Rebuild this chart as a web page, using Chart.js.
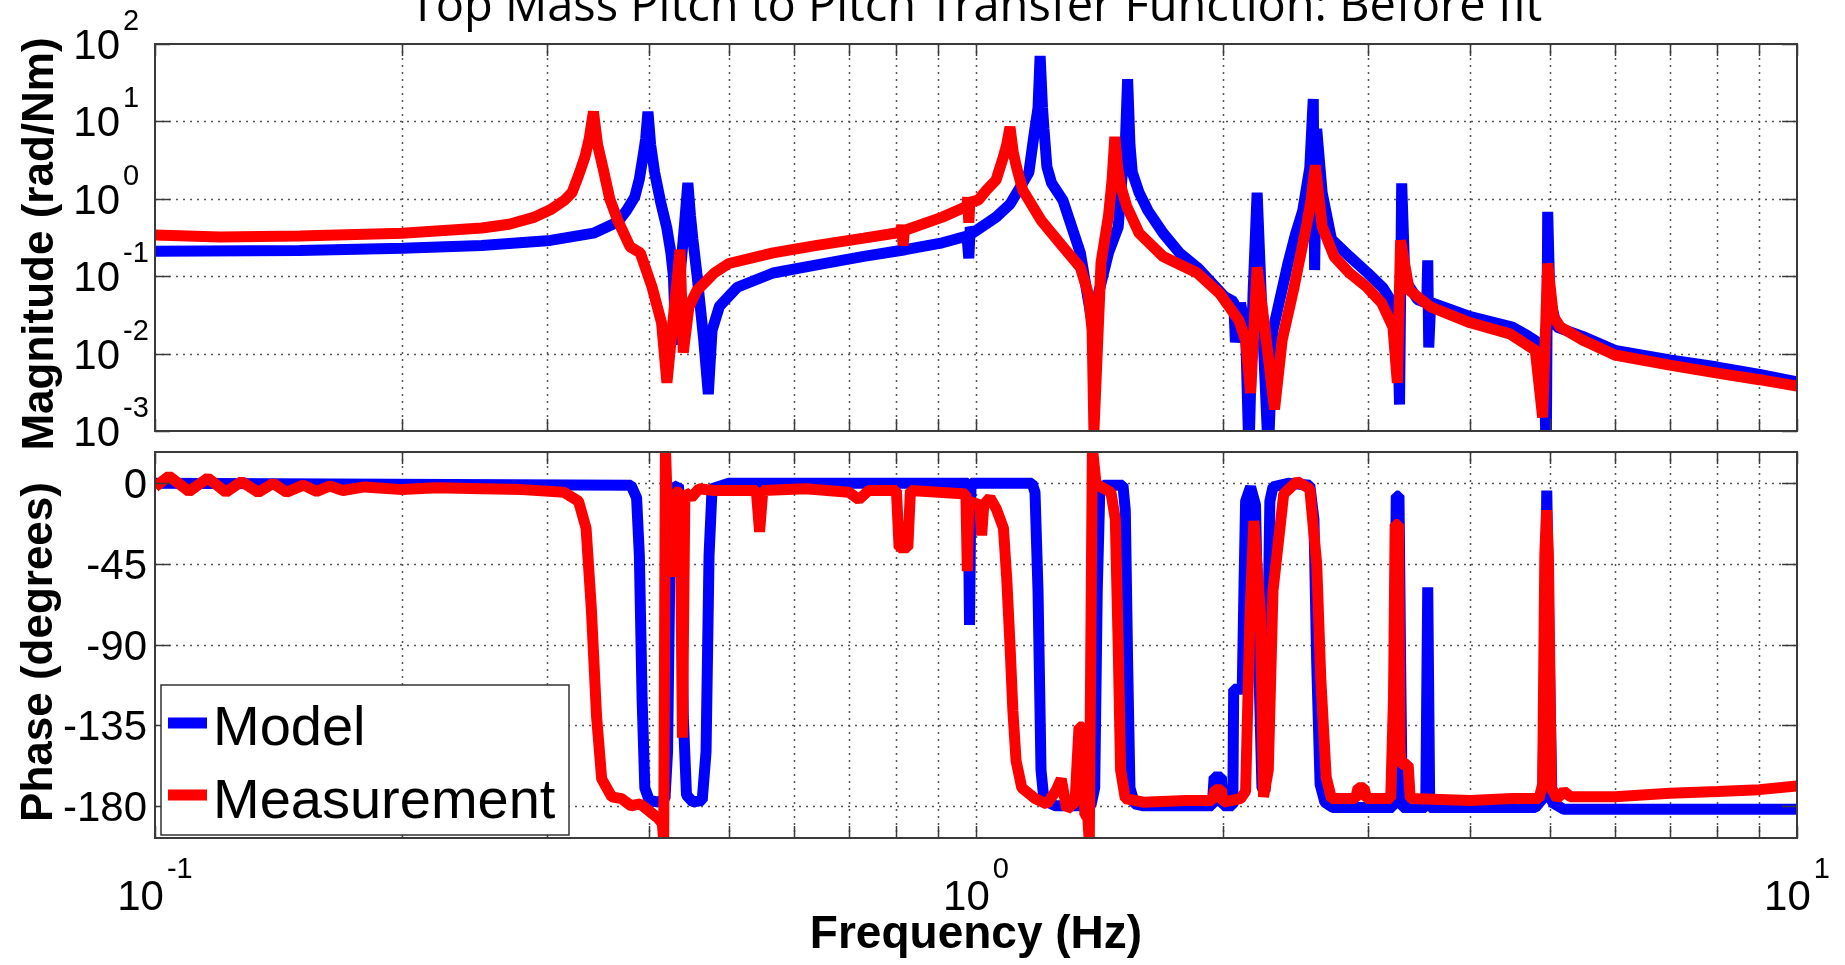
<!DOCTYPE html>
<html>
<head>
<meta charset="utf-8">
<title>Top Mass Pitch to Pitch Transfer Function</title>
<script src="https://cdn.jsdelivr.net/npm/chart.js@4.4.1/dist/chart.umd.min.js"></script>
<style>
  html, body { margin: 0; padding: 0; background: #fff; }
  #wrap { position: relative; width: 1845px; height: 965px; overflow: hidden; }
  canvas { position: absolute; left: 0; }
  #magCanvas { top: 0; }
  #phaseCanvas { top: 440px; }
</style>
</head>
<body>
<div id="wrap">
  <canvas id="magCanvas" width="1845" height="470"></canvas>
  <canvas id="phaseCanvas" width="1845" height="525"></canvas>
</div>
<script>

const titleText = 'Top Mass Pitch to Pitch Transfer Function: Before fit';
const magLabel = 'Magnitude (rad/Nm)';
const phaseLabel = 'Phase (degrees)';
const freqLabel = 'Frequency (Hz)';
const seriesNames = ['Model', 'Measurement'];

// ticks
const freqTicks = [0.1, 0.2, 0.3, 0.4, 0.5, 0.6, 0.7, 0.8, 0.9, 1, 2, 3, 4, 5, 6, 7, 8, 9, 10];
const freqDecades = [0.1, 1, 10];
const freqExponents = ['-1', '0', '1'];
const magTicks = [1e-3, 1e-2, 1e-1, 1, 10, 100];
const magExponents = ['-3', '-2', '-1', '0', '1', '2'];
const phaseTicks = [-180, -135, -90, -45, 0];
const phaseTickLabels = ['-180', '-135', '-90', '-45', '0'];

// Model magnitude
const modelMagFreq = [
  0.1, 0.15, 0.2, 0.25, 0.303, 0.342, 0.366, 0.375, 0.384, 0.389,
  0.393, 0.396, 0.3985, 0.4015, 0.406, 0.413, 0.42, 0.425, 0.428, 0.431,
  0.436, 0.441, 0.4457, 0.449, 0.452, 0.457, 0.466, 0.472, 0.477, 0.487,
  0.512, 0.566, 0.64, 0.73, 0.82, 0.91, 0.975, 0.98, 0.984, 0.99,
  1.058, 1.1, 1.14, 1.16, 1.175, 1.19, 1.197, 1.205, 1.21, 1.22,
  1.236, 1.276, 1.34, 1.37, 1.39, 1.41, 1.45, 1.49, 1.505, 1.52,
  1.53, 1.54, 1.55, 1.58, 1.62, 1.69, 1.77, 1.86, 2.01, 2.06,
  2.07, 2.1, 2.13, 2.15, 2.175, 2.2, 2.225, 2.27, 2.3, 2.4,
  2.45, 2.5, 2.55, 2.575, 2.585, 2.6, 2.64, 2.71, 2.85, 3.0,
  3.13, 3.2, 3.26, 3.28, 3.3, 3.33, 3.45, 3.54, 3.55, 3.56,
  3.58, 4.0, 4.5, 4.7, 4.85, 4.92, 4.95, 4.97, 5.0, 5.1,
  5.48, 6, 7, 8, 9, 10
];
const modelMag = [
  0.21, 0.215, 0.23, 0.25, 0.29, 0.36, 0.5, 0.7, 1.05, 1.8,
  3.5, 6, 13.3, 5, 2.2, 0.9, 0.43, 0.2, 0.1, 0.013,
  0.1, 0.4, 1.6, 0.6, 0.3, 0.11, 0.015, 0.003, 0.02, 0.041,
  0.072, 0.11, 0.14, 0.18, 0.22, 0.27, 0.33, 0.17, 0.43, 0.36,
  0.58, 0.85, 1.6, 2.2, 6, 15, 70, 15, 8, 2.6,
  1.6, 0.96, 0.2, 0.049, 0.02, 0.06, 0.2, 0.43, 1.75, 5,
  35, 5, 2.2, 1.2, 0.7, 0.36, 0.2, 0.13, 0.054, 0.047,
  0.014, 0.045, 0.02, 0.0005, 0.06, 1.2, 0.06, 0.0005, 0.02, 0.15,
  0.35, 0.7, 2.5, 19.5, 0.12, 8, 1.2, 0.3, 0.18, 0.11,
  0.071, 0.049, 0.03, 0.0022, 1.58, 0.09, 0.05, 0.045, 0.16, 0.012,
  0.046, 0.03, 0.022, 0.017, 0.0137, 0.006, 0.0005, 0.68, 0.05, 0.022,
  0.0167, 0.011, 0.0083, 0.0067, 0.0054, 0.0043
];

// Measurement magnitude
const measMagFreq = [
  0.1, 0.12, 0.15, 0.2, 0.25, 0.27, 0.29, 0.303, 0.315, 0.322,
  0.328, 0.334, 0.338, 0.342, 0.346, 0.351, 0.358, 0.366, 0.379, 0.39,
  0.403, 0.414, 0.4203, 0.428, 0.436, 0.44, 0.447, 0.457, 0.48, 0.5,
  0.566, 0.64, 0.73, 0.81, 0.812, 0.815, 0.818, 0.91, 0.975, 0.977,
  0.98, 0.983, 1.006, 1.03, 1.058, 1.08, 1.09, 1.1, 1.11, 1.12,
  1.14, 1.2, 1.276, 1.34, 1.37, 1.385, 1.392, 1.42, 1.45, 1.465,
  1.476, 1.488, 1.5, 1.526, 1.58, 1.69, 1.86, 1.98, 2.09, 2.13,
  2.16, 2.2, 2.25, 2.31, 2.36, 2.44, 2.53, 2.56, 2.59, 2.62,
  2.64, 2.73, 2.85, 2.99, 3.12, 3.22, 3.26, 3.29, 3.37, 3.58,
  4.0, 4.47, 4.8, 4.9, 4.97, 5.05, 5.15, 5.48, 6, 7,
  8, 9, 10
];
const measMag = [
  0.34, 0.32, 0.33, 0.36, 0.42, 0.47, 0.58, 0.72, 0.95, 1.2,
  2, 3.5, 6, 13.4, 5, 2.6, 1, 0.53, 0.24, 0.2,
  0.073, 0.025, 0.0042, 0.03, 0.22, 0.0103, 0.04, 0.065, 0.11, 0.146,
  0.2, 0.25, 0.31, 0.37, 0.46, 0.25, 0.39, 0.58, 0.8, 1.05,
  0.49, 0.9, 0.96, 1.3, 1.75, 3.5, 5, 8.5, 4, 2.6,
  1.3, 0.53, 0.24, 0.13, 0.06, 0.02, 0.001, 0.15, 0.6, 1.8,
  6.3, 2.5, 1.5, 0.8, 0.36, 0.18, 0.11, 0.06, 0.027, 0.015,
  0.0031, 0.13, 0.02, 0.0019, 0.015, 0.072, 0.48, 1, 2.7, 0.9,
  0.44, 0.18, 0.11, 0.073, 0.045, 0.022, 0.0042, 0.29, 0.066, 0.04,
  0.025, 0.018, 0.011, 0.0015, 0.146, 0.03, 0.022, 0.015, 0.0096, 0.0071,
  0.0056, 0.0046, 0.0038
];

// Model phase
const modelPhaseFreq = [
  0.1, 0.38, 0.386, 0.389, 0.392, 0.395, 0.4, 0.41, 0.418, 0.421,
  0.424, 0.427, 0.434, 0.437, 0.44, 0.444, 0.452, 0.464, 0.469, 0.473,
  0.477, 0.5, 0.978, 0.982, 0.986, 1.17, 1.18, 1.19, 1.2, 1.21,
  1.25, 1.38, 1.395, 1.405, 1.415, 1.43, 1.51, 1.52, 1.53, 1.54,
  1.56, 1.6, 1.94, 1.95, 1.99, 2.0, 2.055, 2.06, 2.11, 2.12,
  2.13, 2.16, 2.19, 2.21, 2.23, 2.25, 2.265, 2.28, 2.3, 2.4,
  2.55, 2.58, 2.6, 2.625, 2.66, 2.72, 3.22, 3.235, 3.25, 3.275,
  3.29, 3.305, 3.53, 3.55, 3.57, 4.8, 4.9, 4.93, 4.957, 4.99,
  5.03, 5.2, 10
];
const modelPhase = [
  0, -1, -8, -40, -120, -170, -177, -178, -176, -150,
  -40, -3, -1, -20, -130, -174, -178, -177, -150, -40,
  -3, 0, 0, -79, 0, 0, -5, -60, -160, -177,
  -180, -180, -170, -60, -5, -1, -1, -15, -100, -170,
  -179, -180, -180, -164, -164, -180, -180, -115, -115, -60,
  -10, -2, -12, -100, -170, -172, -100, -10, -2, 0,
  -1, -20, -100, -168, -178, -181, -181, -100, -7, -7,
  -100, -181, -181, -58, -181, -181, -176, -100, -4, -90,
  -178, -182, -182
];

// Measurement phase
const measPhaseFreq = [
  0.1, 0.104, 0.11, 0.116, 0.122, 0.1275, 0.1336, 0.1393, 0.1446, 0.1516,
  0.1574, 0.1633, 0.1694, 0.18, 0.2, 0.22, 0.25, 0.28, 0.315, 0.328,
  0.335, 0.34, 0.345, 0.35, 0.36, 0.37, 0.38, 0.39, 0.4, 0.41,
  0.415, 0.4165, 0.4185, 0.422, 0.426, 0.43, 0.436, 0.439, 0.442, 0.45,
  0.46, 0.48, 0.54, 0.545, 0.55, 0.62, 0.7, 0.72, 0.74, 0.8,
  0.806, 0.826, 0.832, 0.9, 0.972, 0.976, 0.98, 1.01, 1.016, 1.022,
  1.04, 1.058, 1.08, 1.09, 1.1, 1.109, 1.119, 1.137, 1.18, 1.22,
  1.25, 1.27, 1.29, 1.32, 1.335, 1.35, 1.357, 1.368, 1.374, 1.386,
  1.4, 1.42, 1.46, 1.478, 1.49, 1.5, 1.52, 1.6, 1.8, 1.94,
  1.955, 1.99, 2.0, 2.1, 2.13, 2.157, 2.18, 2.22, 2.24, 2.27,
  2.3, 2.37, 2.46, 2.55, 2.6, 2.63, 2.67, 2.71, 2.9, 2.92,
  2.97, 2.99, 3.2, 3.225, 3.24, 3.27, 3.285, 3.3, 3.36, 3.38,
  4.0, 4.5, 4.85, 4.9, 4.93, 4.955, 4.98, 5.02, 5.1, 5.2,
  5.3, 6, 7, 8, 9, 10
];
const measPhase = [
  -2, 4, -4.5, 3, -5, 1, -5, 0, -5, -1,
  -4.5, -1.5, -4, -2, -3.5, -2.5, -3, -3.5, -5, -10,
  -25, -70, -130, -165, -175, -176, -180, -179, -183, -187,
  -190, -200, 20, -30, -52, -5, -5, -142, -5, -8,
  -3, -4, -4, -27, -4, -3, -5, -9, -4, -4,
  -36, -36, -4, -5, -6, -49, -10, -12, -29, -12,
  -8, -14, -25, -53, -90, -127, -155, -170, -176, -179,
  -172, -165, -182, -178, -136, -136, -185, -186, -200, 20,
  0, -2, -5, -20, -90, -160, -176, -178, -177, -177,
  -171, -171, -178, -176, -172, -72, -21, -72, -175, -160,
  -60, -6, 1, -3, -45, -109, -164, -176, -176, -170,
  -170, -176, -176, -120, -23, -23, -150, -157, -157, -176,
  -177, -176, -176, -168, -40, -15, -40, -170, -176, -172,
  -175, -175, -173, -172, -171, -169
];

const BLUE = '#0000ff';
const RED = '#ff0000';
const FONT = '"Liberation Sans", Arial, Helvetica, sans-serif';

const pts = (xs, ys) => xs.map((x, i) => ({ x: x, y: ys[i] }));

function line(data, color, order) {
    return {
        data: data,
        borderColor: color,
        borderWidth: 11,
        pointRadius: 0,
        showLine: true,
        tension: 0,
        borderJoinStyle: 'bevel',
        clip: 0,
        order: order
    };
}

// matlab style frame: dotted grid under the data, box + inward ticks on top
function axesPlugin(yTicks, drawText) {
    return {
        id: 'matlabAxes',
        beforeDatasetsDraw(chart) {
            const { ctx, chartArea: a } = chart;
            const x = chart.scales.x, y = chart.scales.y;
            ctx.save();
            ctx.strokeStyle = '#555';
            ctx.lineWidth = 1.5;
            ctx.setLineDash([2, 5]);
            ctx.beginPath();
            freqTicks.forEach(v => {
                const px = Math.round(x.getPixelForValue(v)) + 0.5;
                if (px < a.left + 2 || px > a.right - 2) return;
                ctx.moveTo(px, a.top);
                ctx.lineTo(px, a.bottom);
            });
            yTicks.forEach(v => {
                const py = Math.round(y.getPixelForValue(v)) + 0.5;
                if (py < a.top + 2 || py > a.bottom - 2) return;
                ctx.moveTo(a.left, py);
                ctx.lineTo(a.right, py);
            });
            ctx.stroke();
            ctx.restore();
        },
        afterDatasetsDraw(chart) {
            const { ctx, chartArea: a } = chart;
            const x = chart.scales.x, y = chart.scales.y;
            ctx.save();
            ctx.strokeStyle = '#3a3a3a';
            ctx.lineWidth = 1.5;
            ctx.beginPath();
            freqTicks.forEach(v => {
                const px = Math.round(x.getPixelForValue(v)) + 0.5;
                ctx.moveTo(px, a.top); ctx.lineTo(px, a.top + 12);
                ctx.moveTo(px, a.bottom); ctx.lineTo(px, a.bottom - 12);
            });
            yTicks.forEach(v => {
                const py = Math.round(y.getPixelForValue(v)) + 0.5;
                ctx.moveTo(a.left, py); ctx.lineTo(a.left + 15, py);
                ctx.moveTo(a.right, py); ctx.lineTo(a.right - 15, py);
            });
            ctx.stroke();
            ctx.lineWidth = 2;
            ctx.strokeRect(a.left, a.top, a.right - a.left, a.bottom - a.top);
            ctx.restore();
            ctx.save();
            ctx.fillStyle = '#000';
            drawText(chart);
            ctx.restore();
        }
    };
}

function bodeChart(id, datasets, yOpts, xHeight, padTop, yTicks, drawText) {
    const hidden = { ticks: { display: false }, grid: { display: false }, border: { display: false } };
    return new Chart(document.getElementById(id), {
        type: 'scatter',
        data: { datasets: datasets },
        options: {
            responsive: false,
            animation: false,
            events: [],
            devicePixelRatio: 1,
            layout: { padding: { top: padTop, right: 48, left: 0, bottom: 0 } },
            plugins: { legend: { display: false }, tooltip: { enabled: false } },
            scales: {
                x: Object.assign({ type: 'logarithmic', min: 0.1, max: 10,
                    afterFit: s => { s.height = xHeight; } }, hidden),
                y: Object.assign({ afterFit: s => { s.width = 155; } }, hidden, yOpts)
            }
        },
        plugins: [axesPlugin(yTicks, drawText)]
    });
}

function rotatedLabel(ctx, text, x, y) {
    ctx.save();
    ctx.translate(x, y);
    ctx.rotate(-Math.PI / 2);
    ctx.font = 'bold 44px ' + FONT;
    ctx.textAlign = 'center';
    ctx.textBaseline = 'alphabetic';
    ctx.fillText(text, 0, 0);
    ctx.restore();
}

// Magnitude panel (canvas is taller than the axes so the rotated label is not cut)
bodeChart('magCanvas',
    [line(pts(modelMagFreq, modelMag), BLUE, 1), line(pts(measMagFreq, measMag), RED, 0)],
    { type: 'logarithmic', min: 1e-3, max: 100 },
    39, 44, magTicks,
    chart => {
        const ctx = chart.ctx, a = chart.chartArea, y = chart.scales.y;
        ctx.font = '47px "Open Sans"';
        ctx.textAlign = 'center';
        ctx.textBaseline = 'alphabetic';
        ctx.fillText(titleText, (a.left + a.right) / 2, 21);

        rotatedLabel(ctx, magLabel, 53, 244);

        magTicks.forEach((v, i) => {
            const py = y.getPixelForValue(v);
            ctx.font = '42px ' + FONT;
            ctx.textAlign = 'right';
            ctx.fillText('10', 120, py + 15);
            ctx.font = '29px ' + FONT;
            ctx.textAlign = 'left';
            ctx.fillText(magExponents[i], 123, py - 14);
        });
    });

// Phase panel
bodeChart('phaseCanvas',
    [line(pts(modelPhaseFreq, modelPhase), BLUE, 1), line(pts(measPhaseFreq, measPhase), RED, 0)],
    { type: 'linear', min: -198, max: 17.5, bounds: 'data' },
    127, 12, phaseTicks,
    chart => {
        const ctx = chart.ctx, a = chart.chartArea, x = chart.scales.x, y = chart.scales.y;
        ctx.textBaseline = 'alphabetic';

        phaseTicks.forEach((v, i) => {
            const py = y.getPixelForValue(v);
            ctx.font = '42px ' + FONT;
            ctx.textAlign = 'right';
            ctx.fillText(phaseTickLabels[i], 147, py + 15);
        });

        freqDecades.forEach((v, i) => {
            const px = x.getPixelForValue(v);
            ctx.font = '42px ' + FONT;
            const w10 = ctx.measureText('10').width;
            ctx.font = '29px ' + FONT;
            const we = ctx.measureText(freqExponents[i]).width;
            const left = px - (w10 + 3 + we) / 2;
            ctx.textAlign = 'left';
            ctx.font = '42px ' + FONT;
            ctx.fillText('10', left, 470);
            ctx.font = '29px ' + FONT;
            ctx.fillText(freqExponents[i], left + w10 + 3, 438);
        });

        ctx.font = 'bold 46px ' + FONT;
        ctx.textAlign = 'center';
        ctx.fillText(freqLabel, (a.left + a.right) / 2, 508);

        rotatedLabel(ctx, phaseLabel, 52, 212);

        // legend box, lower left inside the axes
        ctx.fillStyle = '#fff';
        ctx.fillRect(161, 245, 408, 150);
        ctx.strokeStyle = '#333';
        ctx.lineWidth = 1.5;
        ctx.strokeRect(161, 245, 408, 150);
        ctx.lineWidth = 11;
        ctx.lineCap = 'butt';
        [[BLUE, 283], [RED, 355]].forEach(([c, ly]) => {
            ctx.strokeStyle = c;
            ctx.beginPath();
            ctx.moveTo(168, ly);
            ctx.lineTo(207, ly);
            ctx.stroke();
        });
        ctx.fillStyle = '#000';
        ctx.font = '56px ' + FONT;
        ctx.textAlign = 'left';
        ctx.fillText(seriesNames[0], 213, 305);
        ctx.fillText(seriesNames[1], 213, 378);
    });
</script>
</body>
</html>
